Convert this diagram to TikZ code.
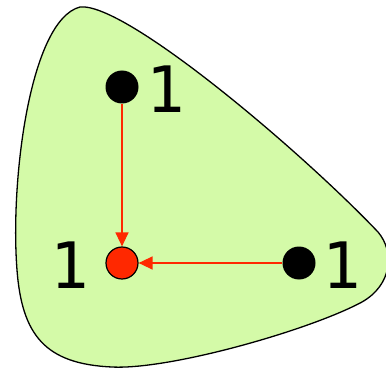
\documentclass[tikz,border=0pt]{standalone}
\usepackage{fontspec}
\newfontfamily\labelfont{DejaVu Sans Mono}
\usetikzlibrary{arrows.meta}
\definecolor{blobgreen}{RGB}{212,250,168}
\definecolor{arrowred}{RGB}{255,40,0}
\begin{document}
\begin{tikzpicture}[x=1pt,y=-1pt,
  dot/.style={circle,fill=black,minimum size=33pt,inner sep=0pt},
  reddot/.style={circle,draw=black,line width=1.2pt,fill=arrowred,minimum size=32pt,inner sep=0pt},
  lbl/.style={font=\labelfont\fontsize{64}{64}\selectfont,inner sep=0pt},
  conn/.style={draw=arrowred,line width=1.4pt,-{Triangle[length=14pt,width=13pt]}}]
\useasboundingbox (0,0) rectangle (386,369);
\draw[fill=blobgreen,line width=1.3pt]
  (80,7) .. controls (125,2) and (300,150) .. (378,232)
  .. controls (395,252) and (392,285) .. (362,302)
  .. controls (310,330) and (170,370) .. (112,367)
  .. controls (45,364) and (22,335) .. (17,270)
  .. controls (10,180) and (30,20) .. (80,7) -- cycle;
\node[dot] (a) at (122,87) {};
\node[reddot] (b) at (122,263) {};
\node[dot] (c) at (299,263) {};
\node[lbl] (la) at (166,89) {1};
\node[lbl] (lb) at (70,265) {1};
\node[lbl] (lc) at (342,265) {1};
\draw[conn] (a) -- (b);
\draw[conn] (c) -- (b);
\end{tikzpicture}
\end{document}
